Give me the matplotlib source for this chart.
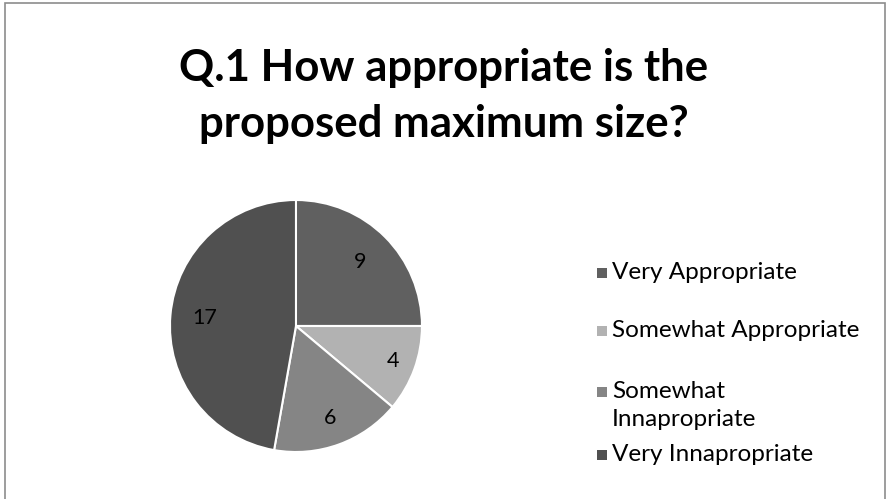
import matplotlib
matplotlib.use("Agg")
import matplotlib.pyplot as plt
from matplotlib.patches import Rectangle
import numpy as np

title = "Q.1 How appropriate is the\nproposed maximum size?"
labels = ["Very Appropriate", "Somewhat Appropriate", "Somewhat\nInnapropriate", "Very Innapropriate"]
values = [9, 4, 6, 17]
colors = ["#606060", "#b2b2b2", "#858585", "#505050"]

plt.rcParams['font.family'] = ['Lato', 'DejaVu Sans']

fig = plt.figure(figsize=(8.88, 4.99), dpi=100)
fig.patches.append(Rectangle((0.006, -0.05), 0.991, 1.043, transform=fig.transFigure,
                             fill=False, edgecolor="#8c8c8c", linewidth=1.2))

fig.text(0.5, 0.808, title, ha="center", va="center", fontsize=31.5, fontweight="bold",
         linespacing=1.48, color="#000000")

ax = fig.add_axes([0.1914, 0.0942, 0.2838, 0.505])
wedges, _ = ax.pie(values, colors=colors, startangle=90, counterclock=False,
                   wedgeprops=dict(edgecolor="white", linewidth=1.5))
ax.set_xlim(-1, 1)
ax.set_ylim(-1, 1)

# data labels, roughly where Excel puts them
label_r = [0.72, 0.82, 0.78, 0.73]
for w, v, r in zip(wedges, values, label_r):
    ang = np.deg2rad((w.theta1 + w.theta2) / 2)
    ax.text(r * np.cos(ang), r * np.sin(ang), str(v), ha="center", va="center",
            fontsize=15.5, color="black")

# legend drawn by hand so the two-line entry sits like the original
leg_y = [0.453, 0.337, 0.215, 0.089]
line_h = 28 / 499
for lab, col, y in zip(labels, colors, leg_y):
    n = lab.count("\n")
    fig.patches.append(Rectangle((0.6725, y - 0.010), 0.0113, 0.020, transform=fig.transFigure,
                                 facecolor=col, edgecolor="none"))
    fig.text(0.689, y - n * line_h / 2, lab, ha="left", va="center",
             fontsize=17.5, linespacing=1.4, color="black")

fig.savefig("out.png", dpi=100)
